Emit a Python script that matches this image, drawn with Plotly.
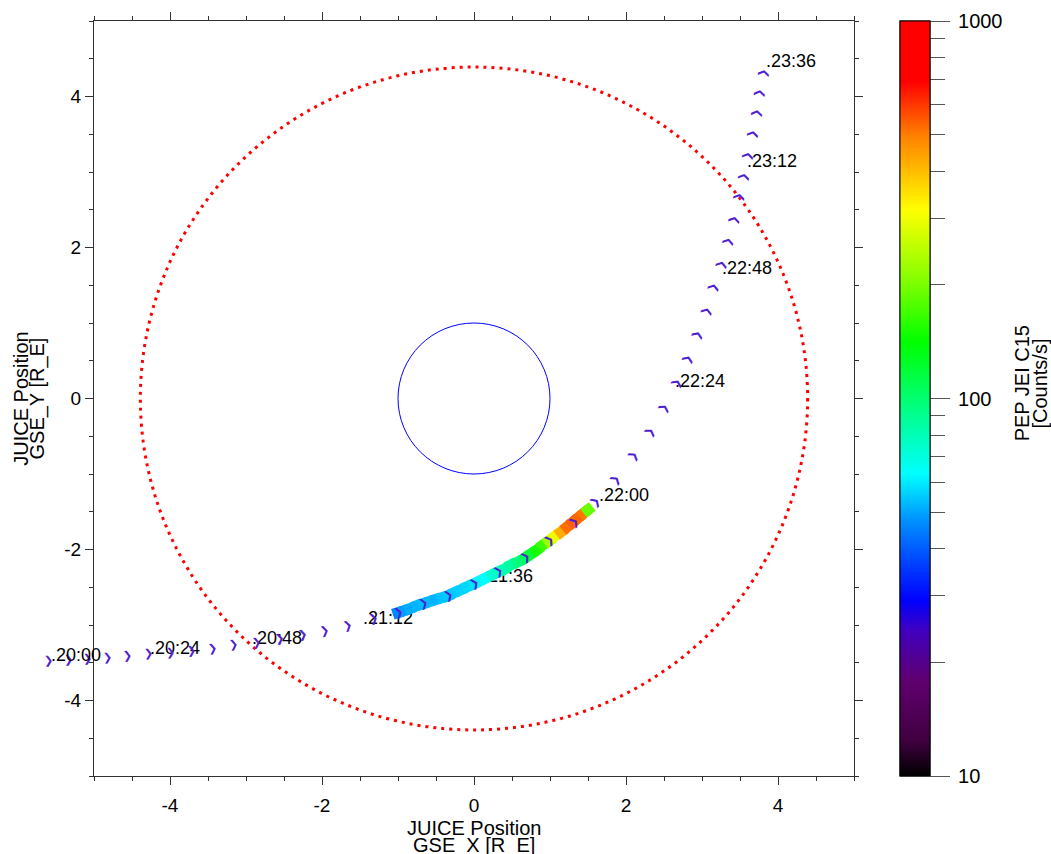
import numpy as np
import plotly.graph_objects as go

# ---------------- data ----------------
# JUICE trajectory samples (~5 min cadence), GSE X / Y in R_E
traj_x = [-5.605, -5.342, -5.092, -4.829, -4.553, -4.289, -4.0, -3.711, -3.447, -3.171,
          -2.868, -2.553, -2.263, -1.961, -1.658, -1.329, -1.0, -0.671, -0.342, 0.0,
          0.316, 0.671, 0.987, 1.303, 1.592, 1.855, 2.092, 2.303, 2.487, 2.658,
          2.803, 2.934, 3.053, 3.145, 3.237, 3.329, 3.408, 3.474, 3.539, 3.592,
          3.658, 3.711, 3.750, 3.803]
traj_y = [-3.470, -3.456, -3.443, -3.430, -3.404, -3.377, -3.364, -3.338, -3.311, -3.259,
          -3.232, -3.179, -3.127, -3.074, -3.008, -2.916, -2.836, -2.718, -2.612, -2.454,
          -2.296, -2.111, -1.887, -1.636, -1.359, -1.069, -0.752, -0.449, -0.132, 0.198,
          0.515, 0.844, 1.148, 1.464, 1.768, 2.071, 2.361, 2.665, 2.942, 3.219,
          3.496, 3.773, 4.037, 4.301]

# time labels along the trajectory
label_time = ["20:00", "20:24", "20:48", "21:12", "21:36",
              "22:00", "22:24", "22:48", "23:12", "23:36"]
label_x = [-5.579, -4.263, -2.921, -1.461, 0.118, 1.645, 2.645, 3.263, 3.592, 3.842]
label_y = [-3.430, -3.325, -3.193, -2.929, -2.375, -1.293, 0.211, 1.715, 3.127, 4.446]

# PEP JEI C15 count rate samples along the trajectory
band_x = [-1.000, -0.921, -0.842, -0.750, -0.671, -0.592, -0.513, -0.421, -0.342, -0.263,
          -0.171, -0.092, 0.000, 0.079, 0.158, 0.237, 0.316, 0.408, 0.487, 0.579,
          0.671, 0.750, 0.829, 0.908, 0.987, 1.066, 1.145, 1.224, 1.303, 1.368,
          1.447, 1.500]
band_y = [-2.836, -2.810, -2.784, -2.744, -2.718, -2.691, -2.665, -2.639, -2.612, -2.573,
          -2.533, -2.493, -2.454, -2.414, -2.375, -2.335, -2.296, -2.256, -2.203, -2.164,
          -2.111, -2.058, -2.005, -1.939, -1.887, -1.821, -1.768, -1.702, -1.636, -1.583,
          -1.517, -1.475]
band_counts = [46, 49, 51, 52, 53, 53, 52, 54, 55, 55,
               56, 57, 59, 62, 64, 72, 76, 82, 86, 95,
               105, 120, 150, 166, 225, 300, 420, 520, 540, 530,
               510, 190]

earth_radius = 1.0
outer_radius = 4.39

cbar_minor = [10, 20, 30, 40, 50, 60, 70, 80, 90, 100,
              200, 300, 400, 500, 600, 700, 800, 900, 1000]
cbar_major = [10, 100, 1000]
axis_ticks = [-4, -2, 0, 2, 4]
x_range = [-5, 5]
y_range = [-5, 5]

# ---------------- styling ----------------
FONT = "Liberation Sans"
PURPLE = "#5020d0"
CHEV_FONT = dict(family="DejaVu Sans", size=11, color=PURPLE)
LABEL_FONT = dict(family=FONT, size=18, color="black")
colorscale = [
    [0.0, "#000000"], [0.047, "#400040"], [0.127, "#600070"], [0.193, "#4000c0"],
    [0.232, "#0000ff"], [0.281, "#0040ff"], [0.338, "#0090ff"], [0.40, "#00ffff"],
    [0.456, "#00ffb0"], [0.575, "#00ff00"], [0.654, "#80ff00"], [0.75, "#ffff00"],
    [0.848, "#ff8000"], [0.92, "#ff0000"], [1.0, "#ff0000"],
]

tx = np.array(traj_x)
ty = np.array(traj_y)
ang = np.degrees(np.arctan2(np.gradient(ty) * 75.8, np.gradient(tx) * 76.0))

bx = np.array(band_x)
by = np.array(band_y)
bang = np.degrees(np.arctan2(np.gradient(by) * 75.8, np.gradient(bx) * 76.0))
bval = np.log10(np.array(band_counts, dtype=float))


def in_x(v):
    return x_range[0] <= v <= x_range[1]


def x_domain(v):
    # position on the x axis expressed as a fraction of its domain
    return (v - x_range[0]) / (x_range[1] - x_range[0])


fig = go.Figure()

# time labels inside the axis range (drawn under the colored band)
lab_in = [i for i in range(len(label_time)) if in_x(label_x[i])]
fig.add_trace(go.Scatter(
    x=[label_x[i] for i in lab_in], y=[label_y[i] for i in lab_in], mode="text",
    text=["." + label_time[i] for i in lab_in], textposition="middle right",
    textfont=LABEL_FONT, cliponaxis=False, hoverinfo="skip", showlegend=False))

cb_common = dict(x=1.0605, xanchor="left", y=0.5, yanchor="middle", len=1,
                 lenmode="fraction", thickness=30, thicknessmode="pixels",
                 xpad=0, ypad=0, outlinecolor="black", outlinewidth=1,
                 tickmode="array", ticks="outside", tickcolor="#555")

fig.add_trace(go.Scatter(
    x=band_x, y=band_y, mode="markers",
    marker=dict(symbol="square", size=11, angle=(-bang).tolist(),
                color=bval, colorscale=colorscale, cmin=1, cmax=3,
                line=dict(width=0), showscale=True,
                colorbar=dict(**cb_common, tickvals=np.log10(cbar_minor).tolist(),
                              ticktext=[""] * len(cbar_minor), ticklen=15,
                              showticklabels=False)),
    cliponaxis=False, hoverinfo="skip", showlegend=False))

fig.add_trace(go.Scatter(
    x=band_x, y=band_y, mode="markers",
    marker=dict(symbol="square", size=1, opacity=0,
                color=bval, colorscale=colorscale, cmin=1, cmax=3, showscale=True,
                colorbar=dict(**cb_common, tickvals=np.log10(cbar_major).tolist(),
                              ticktext=["\u2009" + str(v) for v in cbar_major], ticklen=20,
                              tickfont=dict(family=FONT, size=20, color="black"))),
    hoverinfo="skip", showlegend=False))

annotations = []
# direction chevrons along the trajectory
for i in range(len(traj_x)):
    if in_x(traj_x[i]):
        pos = dict(x=traj_x[i], xref="x")
    else:
        pos = dict(x=x_domain(traj_x[i]), xref="x domain")
    annotations.append(dict(
        **pos, y=traj_y[i], yref="y", text="\u276f", showarrow=False,
        textangle=float(-ang[i]), xanchor="center", yanchor="middle",
        font=CHEV_FONT))

# time labels left of the axis range
for i in range(len(label_time)):
    if not in_x(label_x[i]):
        annotations.append(dict(
            x=x_domain(label_x[i]), xref="x domain", y=label_y[i], yref="y",
            text="." + label_time[i], showarrow=False, xanchor="left",
            yanchor="middle", yshift=2, borderpad=0, font=LABEL_FONT))

title_font = dict(family=FONT, size=20, color="black")
annotations += [
    dict(x=0.5, y=-0.069, xref="paper", yref="paper", text="JUICE Position",
         showarrow=False, font=title_font, xanchor="center", yanchor="middle"),
    dict(x=0.5, y=-0.092, xref="paper", yref="paper", text="GSE_X [R_E]",
         showarrow=False, font=title_font, xanchor="center", yanchor="middle"),
    dict(x=-0.097, y=0.5, xref="paper", yref="paper", text="JUICE Position",
         showarrow=False, font=title_font, textangle=-90, xanchor="center", yanchor="middle"),
    dict(x=-0.075, y=0.5, xref="paper", yref="paper", text="GSE_Y [R_E]",
         showarrow=False, font=title_font, textangle=-90, xanchor="center", yanchor="middle"),
    dict(x=1.221, y=0.52, xref="paper", yref="paper", text="PEP JEI C15",
         showarrow=False, font=title_font, textangle=-90, xanchor="center", yanchor="middle"),
    dict(x=1.245, y=0.52, xref="paper", yref="paper", text="[Counts/s]",
         showarrow=False, font=title_font, textangle=-90, xanchor="center", yanchor="middle"),
]

axis_common = dict(
    tickmode="array", tickvals=axis_ticks,
    ticktext=[str(v) for v in axis_ticks],
    ticks="outside", ticklen=8, tickwidth=1, tickcolor="#333",
    showline=True, linecolor="#333", linewidth=1, mirror="ticks",
    showgrid=False, zeroline=False,
    minor=dict(tickmode="linear", tick0=0, dtick=0.5, ticks="outside",
               ticklen=4, tickcolor="#333", showgrid=False),
    tickfont=dict(family=FONT, size=19, color="black"),
)

fig.update_layout(
    width=1051, height=854,
    margin=dict(l=94, r=197, t=18, b=78, pad=0),
    plot_bgcolor="white", paper_bgcolor="white",
    showlegend=False,
    xaxis=dict(range=x_range, ticklabelstandoff=4, **axis_common),
    yaxis=dict(range=y_range, **axis_common),
    annotations=annotations,
    shapes=[
        dict(type="circle", xref="x", yref="y", x0=-outer_radius, y0=-outer_radius,
             x1=outer_radius, y1=outer_radius, layer="below",
             line=dict(color="red", width=3, dash="3px,5px")),
        dict(type="circle", xref="x", yref="y", x0=-earth_radius, y0=-earth_radius,
             x1=earth_radius, y1=earth_radius, layer="below",
             line=dict(color="blue", width=1)),
    ],
)

fig.write_html("out.html")
